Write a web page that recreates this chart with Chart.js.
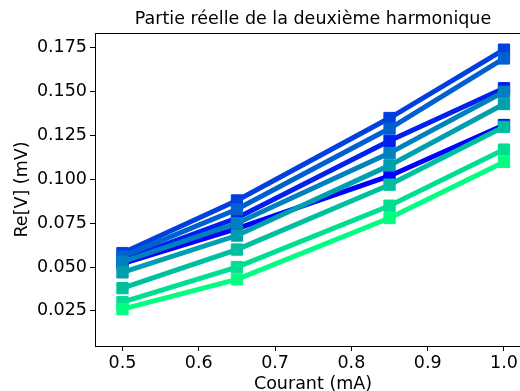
<!DOCTYPE html>
<html>
<head>
<meta charset="utf-8">
<script src="https://cdn.jsdelivr.net/npm/chart.js@4"></script>
<style>
  html, body { margin: 0; padding: 0; background: #fff; overflow: hidden; }
  #wrap { width: 520px; height: 391px; overflow: hidden; position: relative; }
  canvas { display: block; }
</style>
</head>
<body>
<div id="wrap"><canvas id="harmo" width="540" height="400"></canvas></div>
<script>
// courant (mA)
var courants = [0.5, 0.65, 0.85, 1.0];
var xTicks = [0.5, 0.6, 0.7, 0.8, 0.9, 1.0];
var yTicks = [0.025, 0.050, 0.075, 0.100, 0.125, 0.150, 0.175];

// Re[V] (mV), one array per measurement, in plot order
var serie0 = [0.052, 0.072, 0.102, 0.131];
var serie1 = [0.054, 0.078, 0.122, 0.152];
var serie2 = [0.058, 0.088, 0.135, 0.174];
var serie3 = [0.056, 0.083, 0.129, 0.169];
var serie4 = [0.053, 0.075, 0.115, 0.150];
var serie5 = [0.047, 0.068, 0.108, 0.143];
var serie6 = [0.038, 0.060, 0.097, 0.130];
var serie7 = [0.030, 0.050, 0.085, 0.117];
var serie8 = [0.026, 0.043, 0.078, 0.110];

var series = [serie0, serie1, serie2, serie3, serie4, serie5, serie6, serie7, serie8];

// matplotlib "winter" colormap
function winter(t) {
    var g = Math.round(255 * t);
    var b = Math.round(255 * (1 - 0.5 * t));
    return 'rgb(0,' + g + ',' + b + ')';
}

function makeDatasets() {
    var ds = [];
    for (var i = 0; i < series.length; i++) {
        var c = winter(i / (series.length - 1));
        ds.push({
            data: series[i].map(function (v, k) { return {x: courants[k], y: v}; }),
            borderColor: c,
            backgroundColor: c,
            borderWidth: 5,
            pointStyle: 'rect',
            pointRadius: 8,
            pointBorderWidth: 1,
            fill: false,
            tension: 0,
            order: series.length - 1 - i
        });
    }
    return ds;
}

var frame = {
    id: 'frame',
    afterDatasetsDraw: function (chart) {
        var a = chart.chartArea, ctx = chart.ctx;
        ctx.save();
        ctx.strokeStyle = '#000';
        ctx.lineWidth = 1;
        ctx.strokeRect(Math.round(a.left) + 0.5, Math.round(a.top) + 0.5,
            Math.round(a.right - a.left), Math.round(a.bottom - a.top));
        ctx.restore();
    }
};

var font = {family: 'DejaVu Sans', size: 17.5};

var ctx = document.getElementById('harmo').getContext('2d');
var harmoChart = new Chart(ctx, {
    type: 'line',
    data: {datasets: makeDatasets()},
    options: {
        responsive: false,
        animation: false,
        devicePixelRatio: 1,
        layout: {padding: {left: 0, right: 5, top: 0, bottom: 0}},
        plugins: {
            legend: {display: false},
            tooltip: {enabled: false},
            title: {
                display: true,
                fullSize: false,
                text: 'Partie réelle de la deuxième harmonique',
                color: '#000',
                font: {family: 'DejaVu Sans', size: 17.5, weight: 'normal'},
                padding: {top: 9, bottom: 3}
            }
        },
        scales: {
            x: {
                type: 'linear',
                min: 0.464,
                max: 1.0354,
                afterFit: function (s) { s.height = 54; },
                afterBuildTicks: function (s) { s.ticks = xTicks.map(function (v) { return {value: v}; }); },
                ticks: {
                    color: '#000', font: font, padding: 2, maxRotation: 0,
                    callback: function (v) { return v.toFixed(1); }
                },
                grid: {display: true, drawOnChartArea: false, drawTicks: true, tickLength: 5, color: '#000'},
                border: {display: true, color: '#000', width: 1},
                title: {display: true, text: 'Courant (mA)', color: '#000', font: font, padding: {top: 0, bottom: 5}}
            },
            y: {
                min: 0.005,
                max: 0.1835,
                afterFit: function (s) { s.width = 95; },
                afterBuildTicks: function (s) { s.ticks = yTicks.map(function (v) { return {value: v}; }); },
                ticks: {
                    color: '#000', font: font, padding: 3,
                    callback: function (v) { return v.toFixed(3); }
                },
                grid: {display: true, drawOnChartArea: false, drawTicks: true, tickLength: 5, color: '#000'},
                border: {display: true, color: '#000', width: 1},
                title: {display: true, text: 'Re[V] (mV)', color: '#000', font: font, padding: {top: 12, bottom: 0}}
            }
        }
    },
    plugins: [frame]
});
</script>
</body>
</html>
